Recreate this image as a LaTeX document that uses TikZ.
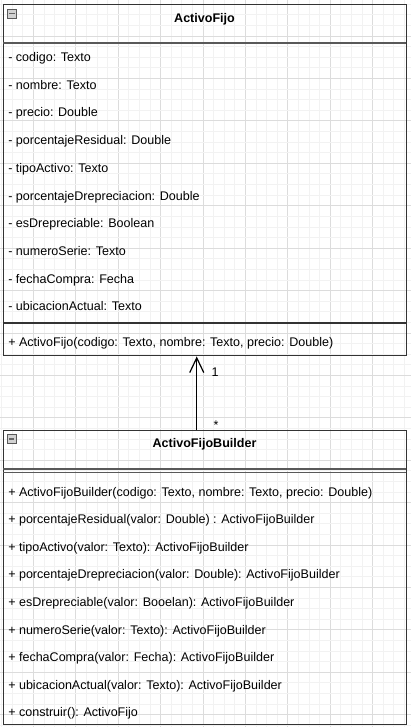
\documentclass[tikz,border=0pt]{standalone}
\usepackage{fontspec}
\setmainfont{Liberation Sans}
\usetikzlibrary{arrows.meta}

\definecolor{gridminor}{HTML}{F2F2F2}
\definecolor{gridmajor}{HTML}{DCDCDC}
\definecolor{boxline}{HTML}{333333}

\tikzset{
  member/.style={anchor=base west,inner sep=0pt,font=\fontsize{9.4}{11}\selectfont},
  classname/.style={anchor=base,inner sep=0pt,font=\fontsize{9.4}{11}\selectfont\bfseries},
  classbox/.style={draw=boxline,line width=1.1pt,inner sep=0pt,anchor=north west},
  collapse/.style={draw=gray!70!black,fill=gray!35,minimum size=6.5pt,inner sep=0pt,
    path picture={\draw[black!60,line width=1.3pt]
      ([xshift=1.3pt]path picture bounding box.west) -- ([xshift=-1.3pt]path picture bounding box.east);}},
  assoc/.style={-{Straight Barb[length=11pt,width=10.5pt]},line width=0.9pt,black}
}

\begin{document}
\begin{tikzpicture}[x=0.75pt,y=-0.75pt]
\useasboundingbox (0,0) rectangle (411,727);
\foreach \k in {0,...,38} {
  \pgfmathtruncatemacro{\m}{mod(\k,4)}
  \ifnum\m=3 \def\gc{gridmajor}\else\def\gc{gridminor}\fi
  \draw[color=\gc,line width=0.6pt] ({1.5+10.6*\k},0) -- ({1.5+10.6*\k},727);
}
\foreach \k in {0,...,68} {
  \pgfmathtruncatemacro{\m}{mod(\k,4)}
  \ifnum\m=3 \def\gc{gridmajor}\else\def\gc{gridminor}\fi
  \draw[color=\gc,line width=0.6pt] (0,{4.3+10.6*\k}) -- (411,{4.3+10.6*\k});
}

\node[classbox,minimum width=302.25pt,minimum height=263.25pt] (activoFijo) at (3,4) {};
\node[collapse] (activoFijoIcon) at (12,13.5) {};
\node[classname] (activoFijoName) at (204.5,22.5) {ActivoFijo};
\draw[gray!70!black,line width=1.4pt] (3,43) -- (406,43);
\foreach \t [count=\i from 0] in {- codigo: Texto, - nombre: Texto, - precio: Double,
    - porcentajeResidual: Double, - tipoActivo: Texto, - porcentajeDrepreciacion: Double,
    - esDrepreciable: Boolean, - numeroSerie: Texto, - fechaCompra: Fecha,
    - ubicacionActual: Texto}
  \node[member] (afAttr\i) at (8,{61.5+27.7*\i}) {\t};
\draw[boxline,line width=0.8pt] (3,323) -- (406,323);
\node[member] (afOp0) at (8,346) {+ ActivoFijo(codigo: Texto, nombre: Texto, precio: Double)};

\node[classbox,minimum width=302.25pt,minimum height=220.5pt] (activoFijoBuilder) at (3,430) {};
\node[collapse] (activoFijoBuilderIcon) at (11.5,439) {};
\node[classname] (activoFijoBuilderName) at (204.5,447.5) {ActivoFijoBuilder};
\draw[gray!70!black,line width=0.9pt] (3,469) -- (406,469);
\draw[gray!70!black,line width=0.9pt] (3,472.5) -- (406,472.5);
\foreach \t [count=\i from 0] in {{+ ActivoFijoBuilder(codigo: Texto, nombre: Texto, precio: Double)},
    + porcentajeResidual(valor: Double) : ActivoFijoBuilder,
    + tipoActivo(valor: Texto): ActivoFijoBuilder,
    + porcentajeDrepreciacion(valor: Double): ActivoFijoBuilder,
    + esDrepreciable(valor: Booelan): ActivoFijoBuilder,
    + numeroSerie(valor: Texto): ActivoFijoBuilder,
    + fechaCompra(valor: Fecha): ActivoFijoBuilder,
    + ubicacionActual(valor: Texto): ActivoFijoBuilder,
    + construir(): ActivoFijo}
  \node[member] (afbOp\i) at (8,{496+27.6*\i}) {\t};

\draw[assoc] ([xshift=-6.375pt]activoFijoBuilder.north) -- ([xshift=-6.375pt]activoFijo.south);
\node[member,anchor=base] (multOne) at (215,376.5) {1};
\node[member,anchor=base] (multMany) at (216,429) {*};
\end{tikzpicture}
\end{document}
